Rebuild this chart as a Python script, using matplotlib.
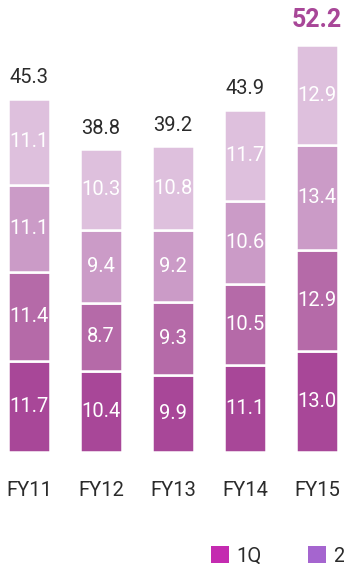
import matplotlib
matplotlib.use('Agg')
import matplotlib.pyplot as plt
from matplotlib.patches import Patch
import numpy as np

plt.rcParams['font.family'] = ['Roboto', 'DejaVu Sans']

years = ['FY11', 'FY12', 'FY13', 'FY14', 'FY15']
quarters = ['1Q', '2Q', '3Q', '4Q']
q1 = [11.7, 10.4, 9.9, 11.1, 13.0]
q2 = [11.4, 8.7, 9.3, 10.5, 12.9]
q3 = [11.1, 9.4, 9.2, 10.6, 13.4]
q4 = [11.1, 10.3, 10.8, 11.7, 12.9]
totals = [45.3, 38.8, 39.2, 43.9, 52.2]

bar_colors = ['#a84798', '#b56aa8', '#cb9bc7', '#dec0dd']
legend_colors = ['#c42bb0', '#a565cf', '#cf8fd0', '#e3bfe3']
text_col = '#2b2b2b'

fig = plt.figure(figsize=(3.44, 5.64), dpi=100)
ax = fig.add_axes([0, (564 - 452) / 564, 1, 452 / 564])

x = np.arange(len(years))
bottom = np.zeros(len(years))
for vals, col in zip([q1, q2, q3, q4], bar_colors):
    ax.bar(x, vals, width=0.59, bottom=bottom, color=col,
           edgecolor='white', linewidth=1.8)
    for xi, b, v in zip(x, bottom, vals):
        ax.text(xi, b + v / 2, f'{v:.1f}', ha='center', va='center',
                color='white', fontsize=14.5)
    bottom += np.array(vals)

for xi, t in zip(x, totals):
    if xi == len(years) - 1:
        ax.annotate(f'{t:.1f}', (xi, t), xytext=(0, 18), textcoords='offset points',
                    ha='center', va='center', fontsize=18, fontweight='bold',
                    color='#a84798')
    else:
        ax.annotate(f'{t:.1f}', (xi, t), xytext=(0, 15), textcoords='offset points',
                    ha='center', va='center', fontsize=14.5, color=text_col)

ax.set_xlim(-29 / 72, (344 - 29) / 72)
ax.set_ylim(0, 452 / 7.8)
ax.set_xticks(x)
ax.set_xticklabels(years, fontsize=14.5, color=text_col)
ax.tick_params(axis='x', length=0, pad=21)
ax.set_yticks([])
for s in ax.spines.values():
    s.set_visible(False)

handles = [Patch(facecolor=c) for c in legend_colors]
fig.legend(handles, quarters, loc='upper left', bbox_to_anchor=(203 / 344, 1 - 538 / 564),
           ncol=4, frameon=False, fontsize=14.5, labelcolor=text_col,
           handlelength=0.9, handleheight=0.9, handletextpad=0.35,
           columnspacing=2.3, borderaxespad=0)

fig.savefig('out.png', dpi=100)
